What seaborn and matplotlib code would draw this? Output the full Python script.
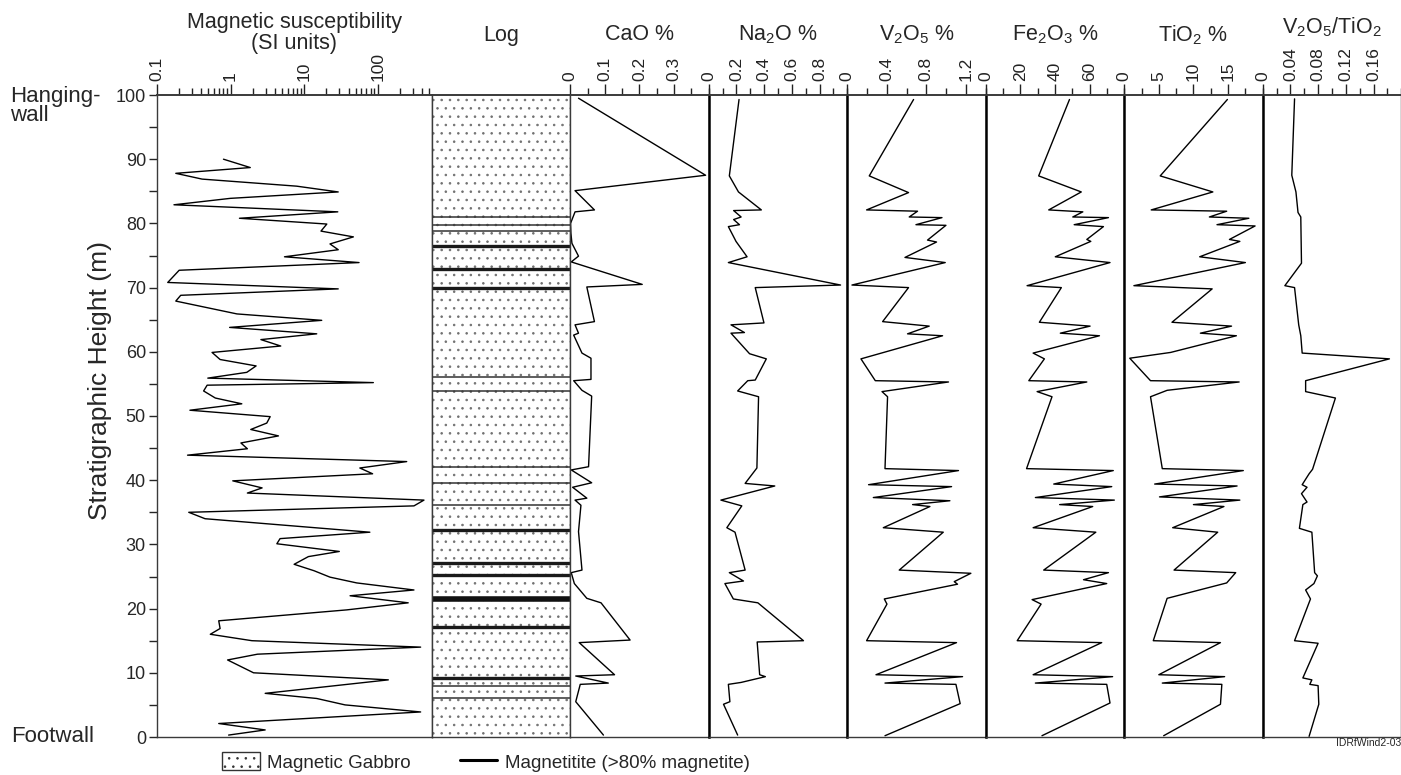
import numpy as np
import matplotlib
matplotlib.use('Agg')
import matplotlib.pyplot as plt
import seaborn as sns
from matplotlib.patches import Patch
from matplotlib.lines import Line2D
from matplotlib.ticker import MultipleLocator, LogLocator, NullFormatter

# ---------------- data ----------------
# magnetic susceptibility (SI units) vs stratigraphic height (m)
mag_h = [90.0, 88.7, 87.8, 86.9, 85.8, 84.9, 83.9, 82.9, 81.8, 80.8,
         79.9, 78.8, 77.9, 76.8, 75.9, 74.8, 73.9, 72.7, 70.8, 69.8,
         68.8, 67.9, 65.9, 64.9, 63.8, 62.8, 61.9, 60.9, 59.9, 58.8,
         57.8, 56.8, 55.9, 55.2, 54.8, 53.9, 52.8, 51.9, 50.9, 49.9,
         48.9, 47.9, 46.9, 45.8, 44.9, 43.9, 42.9, 41.9, 41.0, 39.9,
         38.8, 38.0, 36.9, 36.0, 35.0, 34.0, 31.9, 30.9, 30.1, 28.9,
         28.1, 26.9, 25.9, 24.9, 24.0, 22.9, 22.0, 20.9, 19.8, 18.1,
         16.9, 16.0, 15.0, 14.0, 12.9, 12.0, 10.0, 8.9, 6.8, 6.0,
         5.0, 3.9, 2.1, 1.1, 0.3]
mag_si = [0.80, 1.85, 0.18, 0.41, 7.9, 29, 0.99, 0.17, 28.6, 1.32,
          20.3, 16.9, 46.6, 22.4, 29, 5.4, 55.6, 0.20, 0.14, 29,
          0.21, 0.18, 1.22, 17.3, 0.97, 14.8, 2.58, 4.8, 0.56, 0.72,
          2.22, 1.66, 0.49, 87, 0.48, 0.43, 0.62, 1.42, 0.28, 3.45,
          3.1, 1.88, 4.47, 1.38, 1.69, 0.26, 247, 57, 85, 1.07,
          2.68, 1.69, 424, 310, 0.27, 0.45, 78, 4.7, 4.25, 30,
          11.4, 7.3, 13.6, 22.4, 51.7, 310, 42, 259, 37.9, 0.69,
          0.72, 0.53, 1.95, 382, 2.32, 0.91, 2.05, 139, 2.95, 14.8,
          35.9, 382, 0.69, 2.95, 0.94]

# log: gabbro contacts and magnetitite layers (m)
contacts_h = [81.0, 79.8, 78.8, 56.1, 53.9, 42.1, 39.5, 36.1, 8.0, 6.0]
magnetitite_h = [76.5, 72.9, 69.9, 32.2, 27.1, 25.2, 17.2, 9.2]
magnetitite_thick_h = [21.5]

cao_h = [99.5, 87.5, 85.1, 82.1, 81.8, 80.0, 78.5, 76.9, 74.9, 74.0,
         70.5, 70.1, 64.7, 64.2, 62.9, 62.6, 59.8, 59.0, 55.7, 55.5,
         54.0, 53.1, 42.1, 41.6, 39.6, 38.9, 37.2, 36.9, 36.1, 32.0,
         26.0, 25.6, 23.9, 21.6, 20.9, 15.1, 14.7, 9.7, 9.5, 8.4,
         8.2, 5.5, 0.3]
cao_pct = [0.024, 0.391, 0.014, 0.070, 0.014, 0.001, 0.002, 0.005, 0.024, 0.003,
           0.208, 0.048, 0.070, 0.014, 0.024, 0.010, 0.034, 0.060, 0.060, 0.010,
           0.034, 0.062, 0.053, 0.003, 0.062, 0.007, 0.048, 0.014, 0.031, 0.024,
           0.034, 0.003, 0.012, 0.048, 0.089, 0.173, 0.026, 0.128, 0.016, 0.110,
           0.029, 0.016, 0.096]

na_h = [99.3, 87.4, 84.9, 82.1, 82.0, 81.0, 80.6, 79.8, 79.5, 77.5,
        77.2, 74.8, 73.9, 70.4, 70.0, 64.5, 64.2, 63.0, 62.9, 59.7,
        58.9, 55.6, 55.5, 53.9, 53.0, 41.9, 39.5, 39.1, 36.9, 36.0,
        32.6, 31.9, 26.0, 25.6, 24.3, 23.9, 21.5, 20.9, 15.0, 14.8,
        9.7, 9.4, 8.5, 8.2, 5.5, 5.1, 0.3]
na_pct = [0.219, 0.149, 0.215, 0.380, 0.180, 0.234, 0.180, 0.222, 0.142, 0.190,
          0.197, 0.277, 0.142, 0.952, 0.336, 0.399, 0.161, 0.258, 0.161, 0.295,
          0.416, 0.336, 0.282, 0.209, 0.360, 0.348, 0.263, 0.477, 0.088, 0.239,
          0.131, 0.190, 0.263, 0.149, 0.251, 0.117, 0.178, 0.355, 0.684, 0.350,
          0.368, 0.409, 0.234, 0.142, 0.153, 0.107, 0.209]

v_h = [99.3, 87.4, 84.8, 82.1, 81.9, 81.0, 80.9, 79.8, 79.7, 77.4,
       77.1, 74.7, 73.9, 70.4, 70.0, 64.7, 64.0, 62.8, 62.5, 58.9,
       55.5, 55.3, 53.8, 53.0, 41.8, 41.5, 39.3, 39.0, 37.3, 36.8,
       36.2, 35.9, 32.6, 31.9, 26.0, 25.5, 24.2, 23.8, 21.5, 20.7,
       15.0, 14.7, 9.7, 9.4, 8.4, 8.2, 5.2, 0.2]
v_pct = [0.671, 0.223, 0.620, 0.196, 0.711, 0.627, 0.958, 0.695, 0.998, 0.812,
         0.903, 0.584, 0.991, 0.048, 0.620, 0.358, 0.829, 0.610, 0.964, 0.139,
         0.284, 1.024, 0.352, 0.408, 0.382, 1.125, 0.216, 1.055, 0.264, 1.038,
         0.661, 0.836, 0.365, 0.971, 0.526, 1.250, 1.082, 1.115, 0.375, 0.402,
         0.196, 1.105, 0.291, 1.166, 0.382, 1.099, 1.142, 0.382]

fe_h = [99.3, 87.4, 84.9, 82.1, 81.8, 81.0, 80.9, 79.8, 79.5, 77.5,
        77.2, 74.8, 73.9, 70.3, 70.0, 64.6, 64.0, 62.9, 62.5, 59.8,
        58.9, 55.5, 55.3, 53.8, 53.0, 41.8, 41.5, 39.4, 39.0, 37.3,
        36.9, 36.2, 35.9, 32.6, 31.9, 26.0, 25.6, 24.5, 23.9, 21.4,
        20.7, 15.0, 14.7, 9.7, 9.4, 8.4, 8.2, 5.3, 0.2]
fe_pct = [48.4, 30.6, 55.2, 36.4, 56.1, 50.3, 70.9, 51.1, 68.0, 58.4,
          60.7, 40.2, 71.8, 23.9, 43.7, 31.0, 60.3, 43.1, 65.7, 27.4,
          33.9, 24.9, 58.4, 29.7, 38.3, 23.6, 73.7, 39.3, 72.8, 28.7,
          74.3, 42.7, 61.8, 27.4, 63.6, 33.5, 70.9, 56.5, 69.9, 26.8,
          32.0, 18.2, 67.0, 27.4, 73.3, 28.7, 69.9, 71.8, 32.5]

ti_h = [99.3, 87.4, 84.9, 82.1, 81.9, 81.0, 80.8, 79.8, 79.6, 77.5,
        77.2, 74.8, 73.9, 70.3, 69.8, 64.6, 64.0, 62.9, 62.5, 59.9,
        59.0, 55.5, 55.3, 54.0, 53.0, 41.8, 41.5, 39.4, 39.1, 37.4,
        36.9, 36.2, 35.9, 32.6, 31.9, 26.0, 25.6, 24.0, 21.6, 15.0,
        14.7, 9.7, 9.4, 8.4, 8.2, 5.1, 0.2]
ti_pct = [14.9, 5.2, 12.8, 3.9, 14.8, 12.3, 18.0, 13.4, 18.9, 15.2,
          16.7, 10.9, 17.5, 1.4, 12.7, 6.9, 15.5, 11.0, 16.2, 6.7,
          0.8, 3.8, 16.6, 6.2, 3.8, 5.5, 17.2, 4.4, 16.3, 5.1,
          16.7, 10.0, 14.4, 7.0, 13.5, 7.2, 16.1, 14.8, 6.2, 4.2,
          13.9, 5.0, 14.5, 5.5, 14.1, 13.9, 5.7]

vt_h = [99.4, 87.5, 84.9, 81.7, 81.0, 73.8, 70.3, 70.0, 64.2, 62.5,
        59.8, 58.9, 55.5, 53.8, 52.8, 41.7, 41.0, 39.3, 38.9, 37.9,
        36.6, 36.2, 32.5, 31.9, 25.6, 25.1, 23.9, 22.9, 21.5, 15.0,
        14.6, 9.2, 8.9, 8.2, 8.0, 5.1, 0.1]
vt_ratio = [0.046, 0.042, 0.048, 0.051, 0.055, 0.056, 0.032, 0.046, 0.052, 0.055,
            0.057, 0.183, 0.062, 0.062, 0.105, 0.072, 0.067, 0.057, 0.064, 0.056,
            0.064, 0.058, 0.053, 0.071, 0.075, 0.079, 0.074, 0.062, 0.069, 0.046,
            0.080, 0.058, 0.071, 0.068, 0.080, 0.081, 0.067]

mag_ticks = [0.1, 1, 10, 100]
mag_ticklabels = ['0.1', '1', '10', '100']
cao_ticks = [0, 0.1, 0.2, 0.3]
na_ticks = [0, 0.2, 0.4, 0.6, 0.8]
v_ticks = [0, 0.4, 0.8, 1.2]
fe_ticks = [0, 20, 40, 60]
ti_ticks = [0, 5, 10, 15]
vt_ticks = [0, 0.04, 0.08, 0.12, 0.16]

# ---------------- style ----------------
sns.set_style('ticks')
plt.rcParams['font.family'] = ['Liberation Sans', 'DejaVu Sans']
plt.rcParams['mathtext.default'] = 'regular'
plt.rcParams['hatch.linewidth'] = 0.6
plt.rcParams['hatch.color'] = '#707070'

W, H = 1401, 775
TOP, BOT = 95, 737
fig = plt.figure(figsize=(W / 100, H / 100), dpi=100)


def add_panel(x0, x1):
    ax = fig.add_axes([x0 / W, (H - BOT) / H, (x1 - x0) / W, (BOT - TOP) / H])
    ax.set_ylim(0, 100)
    for s in ax.spines.values():
        s.set_linewidth(1.0)
        s.set_color('#3a3a3a')
    ax.spines['top'].set_linewidth(1.4)
    return ax


def top_axis(ax, ticks, labels):
    ax.xaxis.tick_top()
    ax.set_xticks(ticks)
    ax.set_xticklabels(labels)
    ax.tick_params(axis='x', which='major', direction='out', length=8, width=1.0,
                   labelsize=12.5, labelrotation=90, pad=2, colors='#222222')
    ax.tick_params(axis='x', which='minor', direction='out', length=5, width=1.0,
                   colors='#222222')
    ax.set_xlabel('')


# magnetic susceptibility panel
mag_x0, mag_x1 = 157, 431.7
ax_mag = add_panel(mag_x0, mag_x1)
ax_mag.set_xscale('log')
sns.lineplot(x=np.array(mag_si), y=np.array(mag_h), sort=False, estimator=None,
             color='black', lw=1.0, ax=ax_mag)
ax_mag.set_xlim(0.1, 540)
top_axis(ax_mag, mag_ticks, mag_ticklabels)
ax_mag.xaxis.set_minor_locator(LogLocator(base=10, subs=np.arange(2, 10), numticks=20))
ax_mag.xaxis.set_minor_formatter(NullFormatter())
ax_mag.set_yticks(range(0, 101, 10))
ax_mag.yaxis.set_minor_locator(MultipleLocator(5))
ax_mag.tick_params(axis='y', which='both', direction='out', length=6, width=1.0,
                   labelsize=13, pad=2)
ax_mag.set_ylabel('')

# log panel
pw = 138.5
log_x0 = mag_x1
ax_log = add_panel(log_x0, log_x0 + pw)
ax_log.set_xlim(0, 1)
ax_log.fill_betweenx([0, 100], 0, 1, facecolor='white', edgecolor='#707070',
                     hatch='..', linewidth=0)
ax_log.hlines(contacts_h, 0, 1, color='#333333', lw=1.1)
ax_log.hlines(magnetitite_h, 0, 1, color='#1a1a1a', lw=2.4)
ax_log.hlines(magnetitite_thick_h, 0, 1, color='#111111', lw=4.0)
ax_log.set_xticks([])
ax_log.set_yticks([])

chem = [
    (cao_pct, cao_h, 0.4, cao_ticks, 0.05),
    (na_pct, na_h, 1.0, na_ticks, 0.1),
    (v_pct, v_h, 1.4, v_ticks, 0.2),
    (fe_pct, fe_h, 80, fe_ticks, 10),
    (ti_pct, ti_h, 20, ti_ticks, 2.5),
    (vt_ratio, vt_h, 0.2, vt_ticks, 0.02),
]
for i, (vals, hts, xmax, ticks, minor) in enumerate(chem):
    x0 = log_x0 + pw * (i + 1)
    ax = add_panel(x0, x0 + pw)
    sns.lineplot(x=np.array(vals), y=np.array(hts), sort=False, estimator=None,
                 color='black', lw=1.0, ax=ax)
    ax.set_xlim(0, xmax)
    top_axis(ax, ticks, [f'{t:g}' for t in ticks])
    ax.xaxis.set_minor_locator(MultipleLocator(minor))
    ax.set_yticks([])
    ax.set_ylabel('')
    if i > 0:
        ax.spines['left'].set_linewidth(1.8)
        ax.spines['left'].set_color('black')

# ---------------- titles and labels ----------------
titles = ['Log', 'CaO %', 'Na$_2$O %', 'V$_2$O$_5$ %', 'Fe$_2$O$_3$ %',
          'TiO$_2$ %', 'V$_2$O$_5$/TiO$_2$']
fs_title = 15.5
fig.text((mag_x0 + mag_x1) / 2 / W, 1 - 33 / H, 'Magnetic susceptibility\n(SI units)',
         ha='center', va='center', fontsize=fs_title, linespacing=0.95)
for i, t in enumerate(titles):
    cx = log_x0 + pw * i + pw / 2
    cy = 27 if i == len(titles) - 1 else 35
    fig.text(cx / W, 1 - cy / H, t, ha='center', va='center', fontsize=fs_title)

fig.text(100 / W, 1 - 381 / H, 'Stratigraphic Height (m)', rotation=90,
         ha='center', va='center', fontsize=19)
fig.text(10 / W, 1 - 106 / H, 'Hanging-\nwall', ha='left', va='center', fontsize=16,
         linespacing=0.85)
fig.text(11 / W, 1 - 737 / H, 'Footwall', ha='left', va='center', fontsize=16)
fig.text(1401 / W, 1 - 743 / H, 'IDRfWind2-03', ha='right', va='center', fontsize=7.5)

handles = [Patch(facecolor='white', edgecolor='#333333', hatch='..', lw=1.0),
           Line2D([], [], color='black', lw=2.2)]
fig.legend(handles, ['Magnetic Gabbro', 'Magnetitite (>80% magnetite)'],
           loc='center', bbox_to_anchor=(486 / W, 1 - 762 / H), ncol=2,
           frameon=False, fontsize=13.5, handlelength=2.0, handleheight=1.1,
           handletextpad=0.4, columnspacing=2.6, borderpad=0)

fig.savefig('out.png', dpi=100)
